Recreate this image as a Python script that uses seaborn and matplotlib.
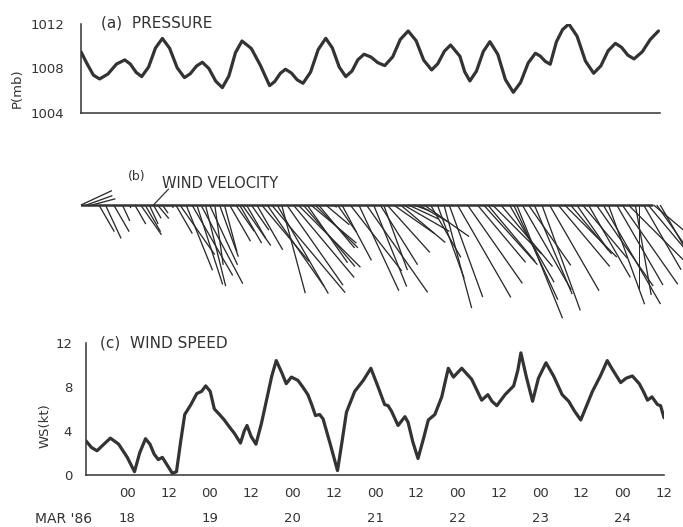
import numpy as np
import seaborn as sns
import matplotlib.pyplot as plt

# time axis: hours after 17 Mar 1986 12:00
p_hours = [0, 1.8, 3.6, 5.4, 7.8, 10.3, 12.7, 14.3, 16.0, 17.6, 19.6, 21.6, 23.6, 25.7,
           27.9, 30.0, 31.7, 33.5, 35.2, 37.1, 39.1, 41.0, 42.9, 44.8, 46.7, 49.4, 52.0,
           54.7, 56.2, 57.8, 59.3, 61.0, 62.7, 64.4, 66.6, 68.8, 71.0, 72.9, 74.9, 76.8,
           78.6, 80.3, 82.1, 84.1, 86.1, 88.1, 90.4, 92.6, 94.9, 97.2, 99.4, 101.7, 103.5,
           105.4, 107.2, 109.9, 111.3, 112.8, 114.7, 116.7, 118.6, 120.9, 123.1, 125.4,
           127.5, 129.7, 131.8, 133.2, 134.7, 136.1, 137.9, 139.7, 141.5, 143.9, 146.3,
           148.7, 150.8, 152.9, 155.0, 156.8, 158.6, 160.4, 162.8, 165.1, 167.5]
p_mb = [1009.5, 1008.4, 1007.4, 1007.06, 1007.5, 1008.4, 1008.77, 1008.4, 1007.65, 1007.27,
        1008.13, 1009.84, 1010.7, 1009.82, 1008.06, 1007.18, 1007.53, 1008.22, 1008.56,
        1007.99, 1006.85, 1006.28, 1007.33, 1009.42, 1010.47, 1009.8, 1008.3, 1006.46,
        1006.83, 1007.56, 1007.93, 1007.6, 1006.98, 1006.67, 1007.68, 1009.7, 1010.71,
        1009.85, 1008.13, 1007.27, 1007.77, 1008.78, 1009.28, 1009.03, 1008.52, 1008.26,
        1009.04, 1010.6, 1011.37, 1010.5, 1008.75, 1007.87, 1008.43, 1009.55, 1010.11,
        1009.1, 1007.7, 1006.88, 1007.76, 1009.53, 1010.41, 1009.27, 1007.0, 1005.86,
        1006.74, 1008.49, 1009.37, 1009.12, 1008.63, 1008.38, 1010.4, 1011.5, 1012.0,
        1010.9, 1008.68, 1007.57, 1008.24, 1009.59, 1010.26, 1009.9, 1009.2, 1008.86,
        1009.5, 1010.6, 1011.37]

ws_hours = [0.0, 1.6, 3.2, 5.2, 7.1, 9.5, 12.0, 14.1, 15.6, 17.3, 18.6, 19.8, 21.0, 22.2,
            23.6, 25.1, 26.3, 27.5, 28.7, 30.5, 32.2, 33.6, 34.8, 36.1, 37.3, 38.8, 40.2,
            41.6, 43.1, 44.9, 46.0, 46.8, 48.0, 49.4, 51.0, 52.4, 54.0, 55.3, 56.9, 58.2,
            59.7, 61.6, 63.0, 64.5, 65.6, 66.7, 67.9, 68.9, 71.0, 73.1, 74.4, 75.7, 78.1,
            80.6, 82.8, 84.9, 86.8, 87.8, 88.8, 90.7, 92.7, 93.6, 95.0, 96.5, 98.0, 99.5,
            101.4, 103.4, 105.3, 106.8, 109.2, 112.1, 115.0, 116.8, 118.0, 119.4, 121.8,
            124.3, 125.5, 126.4, 128.0, 129.8, 131.5, 133.7, 135.9, 138.4, 140.3, 142.0,
            143.8, 145.5, 147.2, 149.5, 151.5, 153.0, 155.4, 157.0, 158.8, 160.8, 162.0,
            163.2, 164.5, 166.1, 167.0, 168.0]
ws_kt = [3.1, 2.5, 2.2, 2.8, 3.35, 2.8, 1.6, 0.3, 2.0, 3.3, 2.8, 1.9, 1.4, 1.6,
         0.9, 0.15, 0.3, 3.0, 5.5, 6.4, 7.4, 7.6, 8.1, 7.6, 6.0, 5.5, 5.0,
         4.4, 3.8, 2.9, 4.0, 4.5, 3.5, 2.8, 4.7, 6.7, 9.0, 10.4, 9.3, 8.3,
         8.9, 8.6, 8.0, 7.3, 6.4, 5.4, 5.5, 5.1, 2.8, 0.4, 3.0, 5.7, 7.6,
         8.6, 9.7, 8.0, 6.4, 6.3, 5.8, 4.5, 5.3, 4.8, 3.0, 1.5, 3.2, 5.0,
         5.5, 7.1, 9.7, 8.9, 9.7, 8.7, 6.8, 7.3, 6.7, 6.3, 7.3,
         8.1, 9.5, 11.1, 8.9, 6.7, 8.8, 10.2, 9.0, 7.3, 6.7, 5.8,
         5.0, 6.3, 7.6, 9.0, 10.4, 9.6, 8.4, 8.8, 9.0, 8.3, 7.6,
         6.8, 7.1, 6.4, 6.3, 5.2]
# direction the stick points to, degrees clockwise from north (up)
wd_toward = [65, 70, 75, 150, 155, 150, 155, 160, 150, 145, 150, 155, 150, 140,
             145, 150, 150, 150, 145, 158, 150, 162, 152, 166, 155, 172, 160,
             165, 150, 145, 150, 145, 150, 145, 150, 140, 145, 140, 150, 165,
             145, 140, 135, 140, 145, 130, 135, 140, 130, 120, 145, 152, 142,
             155, 145, 158, 148, 160, 138, 125, 130, 120, 115, 110, 120, 125,
             150, 160, 165, 160, 150, 145, 140, 138, 140, 135, 140,
             150, 155, 158, 150, 145, 157, 160, 150, 140, 135, 140,
             145, 140, 150, 145, 150, 160, 150, 145, 135, 170, 180,
             150, 140, 130, 145, 150]

tick_hours = list(range(12, 169, 12))
tick_labels = ['00', '12'] * 7
date_labels = ['18', '19', '20', '21', '22', '23', '24']

sns.set_style('white')
plt.rcParams['font.family'] = ['DejaVu Sans']
ink = '#333333'

fig = plt.figure(figsize=(6.83, 5.27), dpi=100)
ax_a = fig.add_axes([0.1186, 0.7856, 0.848, 0.1689])
ax_b = fig.add_axes([0.1186, 0.4023, 0.848, 0.2713])
ax_c = fig.add_axes([0.1259, 0.0987, 0.8463, 0.2505])

# (a) pressure
sns.lineplot(x=p_hours, y=p_mb, ax=ax_a, color=ink, lw=2.3)
ax_a.set_xlim(0, 168)
ax_a.set_ylim(1004, 1012)
ax_a.set_yticks([1004, 1006, 1008, 1010, 1012])
ax_a.set_yticklabels(['1004', '', '1008', '', '1012'])
ax_a.set_xticks(tick_hours)
ax_a.set_xticklabels([])
ax_a.tick_params(axis='y', direction='in', length=5, width=1, color=ink, pad=12,
                 labelsize=9.5, labelcolor='#333')
ax_a.tick_params(axis='x', direction='in', length=5, width=1, color=ink)
ax_a.text(5.8, 1012.1, '(a)  PRESSURE', fontsize=11, color='#333', va='center')
fig.text(17 / 683, 1 - 88 / 527, 'P(mb)', rotation=90, fontsize=9.5, color='#333',
         ha='center', va='center')

# (b) wind velocity sticks
rad = np.deg2rad(wd_toward)
u = np.array(ws_kt) * np.sin(rad)
v = np.array(ws_kt) * np.cos(rad)
ax_b.quiver(ws_hours, np.zeros(len(ws_hours)), u, v, angles='uv', scale_units='inches',
            scale=9.09, pivot='tail', headwidth=0, headlength=0, headaxislength=0,
            minlength=0, units='dots', width=1.3, color='#2a2a2a', clip_on=False)
ax_b.axhline(0, xmin=0, xmax=0.986, color=ink, lw=1.8)
ax_b.set_xlim(0, 168)
ax_b.set_ylim(-10, 3)
ax_b.axis('off')
ax_b.text(13.7, 2.6, '(b)', fontsize=9, color='#333', va='center')
ax_b.text(23.6, 2.0, 'WIND VELOCITY', fontsize=10.5, color='#333', va='center')
ax_b.plot([21, 25.4], [0, 1.45], color=ink, lw=0.9)

# (c) wind speed
sns.lineplot(x=ws_hours, y=ws_kt, ax=ax_c, color=ink, lw=2.3)
ax_c.set_xlim(0, 168)
ax_c.set_ylim(0, 12)
ax_c.set_yticks([0, 2, 4, 6, 8, 10, 12])
ax_c.set_yticklabels(['0', '', '4', '', '8', '', '12'])
ax_c.set_xticks(tick_hours)
ax_c.set_xticklabels(tick_labels)
ax_c.tick_params(axis='y', direction='in', length=5, width=1, color=ink, pad=10,
                 labelsize=9.5, labelcolor='#333')
ax_c.tick_params(axis='x', direction='in', length=5, width=1, color=ink, pad=9,
                 labelsize=9.5, labelcolor='#333')
ax_c.text(4.0, 12, '(c)  WIND SPEED', fontsize=11, color='#333', va='center')
fig.text(45 / 683, 1 - 426 / 527, 'WS(kt)', rotation=90, fontsize=9.5, color='#333',
         ha='center', va='center')
for k, d in enumerate(date_labels):
    ax_c.text(12 + 24 * k, -0.333, d, transform=ax_c.get_xaxis_transform(),
              fontsize=9.5, color='#333', ha='center', va='center')
ax_c.text(-6.4, -0.333, "MAR '86", transform=ax_c.get_xaxis_transform(),
          fontsize=10, color='#333', ha='center', va='center')

for ax in (ax_a, ax_c):
    sns.despine(ax=ax)
    for s in ('left', 'bottom'):
        ax.spines[s].set_color(ink)
        ax.spines[s].set_linewidth(1.1)

fig.savefig('out.png', dpi=100)
